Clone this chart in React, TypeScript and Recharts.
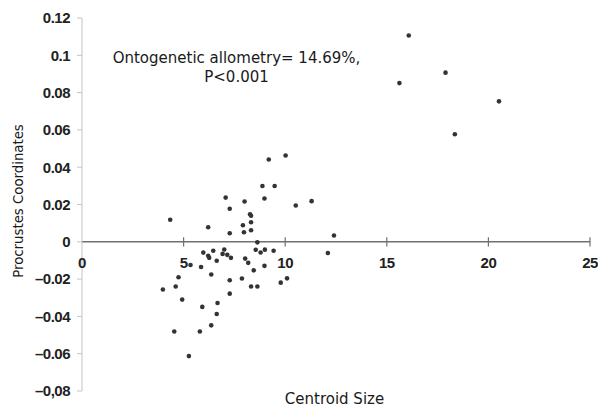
import { ReferenceLine, Scatter, ScatterChart, XAxis, YAxis } from "recharts";

// centroid size (x) and procrustes coordinate (y)
const centroidSize = [
  16.08, 17.89, 15.62, 20.52, 18.35, 11.3, 12.4, 12.1, 10.02, 9.19, 8.88, 9.48, 7.07,
  8.0, 8.98, 7.27, 10.52, 4.34, 8.27, 8.32, 8.32, 6.21, 7.92, 7.97, 8.32, 7.27, 8.63,
  5.97, 6.46, 6.21, 6.26, 6.63, 7.0, 6.92, 7.15, 7.33, 8.03, 8.18, 8.55, 8.79, 9.0,
  9.43, 5.34, 5.86, 6.36, 8.45, 8.98, 4.75, 3.98, 4.61, 7.27, 7.87, 8.32, 8.63, 9.78,
  10.09, 4.93, 7.27, 5.92, 6.67, 6.63, 6.36, 4.54, 5.8, 5.26,
];
const procrustes = [
  0.1106, 0.0907, 0.0851, 0.0753, 0.0577, 0.0218, 0.0034, -0.006, 0.0463, 0.0441,
  0.0299, 0.0299, 0.0237, 0.0216, 0.0232, 0.0177, 0.0195, 0.0118, 0.0148, 0.014,
  0.0105, 0.0078, 0.0089, 0.0051, 0.0062, 0.0046, -0.0003, -0.0058, -0.0048, -0.0075,
  -0.0086, -0.0102, -0.0041, -0.0065, -0.007, -0.0086, -0.009, -0.0113, -0.0043,
  -0.0057, -0.0042, -0.0048, -0.0124, -0.0135, -0.0175, -0.0153, -0.0129, -0.019,
  -0.0256, -0.024, -0.0206, -0.0197, -0.024, -0.024, -0.0219, -0.0196, -0.031,
  -0.0278, -0.0349, -0.0328, -0.0387, -0.0448, -0.0481, -0.0481, -0.0613,
];

const xTicks = [0, 5, 10, 15, 20, 25];
const yTicks = [-0.08, -0.06, -0.04, -0.02, 0, 0.02, 0.04, 0.06, 0.08, 0.1, 0.12];
const yTickLabels = ["–0,08", "–0.06", "–0.04", "–0.02", "0", "0.02", "0.04", "0.06", "0.08", "0.1", "0.12"];

const points = centroidSize.map((size, i) => ({ size, coord: procrustes[i] }));

const tickFont = {
  fill: "#222",
  fontSize: 15,
  fontWeight: "bold",
  fontFamily: "Liberation Sans, Arial, sans-serif",
  letterSpacing: -0.5,
};

const textStyle: React.CSSProperties = {
  position: "absolute",
  fontFamily: "DejaVu Sans, sans-serif",
  color: "#1a1a1a",
  whiteSpace: "nowrap",
};

const Dot = (props: any) => <circle cx={props.cx} cy={props.cy} r={2.3} fill="#333" />;

export default function App() {
  return (
    <div style={{ position: "absolute", left: 0, top: 0, width: 598, height: 408, background: "#fff" }}>
      <ScatterChart width={598} height={408} margin={{ top: 18, right: 8, bottom: 17, left: 22 }}>
        <XAxis type="number" dataKey="size" domain={[0, 25]} hide />
        <YAxis
          type="number"
          dataKey="coord"
          domain={[-0.08, 0.12]}
          ticks={yTicks}
          interval={0}
          width={60}
          tickSize={5}
          tickMargin={7}
          stroke="#c4c4c4"
          tick={tickFont}
          tickFormatter={(v: number) => yTickLabels[yTicks.indexOf(v)] ?? String(v)}
        />
        <ReferenceLine y={0} stroke="#707070" strokeWidth={1.5} />
        {xTicks.map((v) => (
          <ReferenceLine
            key={v}
            segment={[
              { x: v, y: -0.0025 },
              { x: v, y: 0.0025 },
            ]}
            stroke={v === 0 ? "none" : "#707070"}
            strokeWidth={1.2}
            label={{ value: String(v), position: "bottom", offset: 11, ...tickFont }}
          />
        ))}
        <Scatter data={points} fill="#333" shape={Dot} isAnimationActive={false} />
      </ScatterChart>
      <div style={{ ...textStyle, fontSize: 15, left: 100, top: 49, width: 273, textAlign: "center", lineHeight: "19px" }}>
        Ontogenetic allometry= 14.69%,
        <br />
        P&lt;0.001
      </div>
      <div style={{ ...textStyle, fontSize: 15, left: 230, top: 390, width: 209, textAlign: "center" }}>
        Centroid Size
      </div>
      <div
        style={{
          ...textStyle,
          fontSize: 13.3,
          left: 18,
          top: 201,
          transform: "translate(-50%, -50%) rotate(-90deg)",
        }}
      >
        Procrustes Coordinates
      </div>
    </div>
  );
}
